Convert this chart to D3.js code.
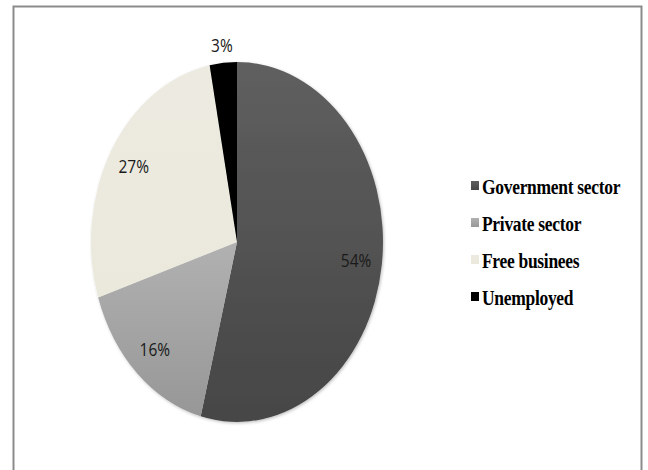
<!DOCTYPE html>
<html>
<head>
<meta charset="utf-8">
<script src="https://cdn.jsdelivr.net/npm/d3@7"></script>
<style>
	body { margin: 0; background: #fff; }
	svg { display: block; }
</style>
</head>
<body>
<div id="chart"></div>
<script>
// chart data
const categories = ['Government sector', 'Private sector', 'Free businees', 'Unemployed'];
const values = [54, 16, 27, 3];
const labels = ['54%', '16%', '27%', '3%'];
// gradient stops per slice (top, bottom)
const fillTops = ['#5f5f5f', '#b1b1b1', '#edebe1', '#000000'];
const fillBottoms = ['#464646', '#979797', '#ebe9dc', '#000000'];

const width = 648,
	height = 470;

const cx = 237,
	cy = 242,
	rx = 146,
	stretch = 180 / 146;

let svg = d3.select('#chart').append('svg')
			.attr('width', width)
			.attr('height', height);

let defs = svg.append('defs');

categories.forEach((c, i) => {
	let grad = defs.append('linearGradient')
				.attr('id', 'grad' + i)
				.attr('x1', '0%').attr('y1', '0%')
				.attr('x2', '0%').attr('y2', '100%');
	grad.append('stop').attr('offset', '0%').attr('stop-color', fillTops[i]);
	grad.append('stop').attr('offset', '100%').attr('stop-color', fillBottoms[i]);
});

let shadow = defs.append('filter')
			.attr('id', 'shadow')
			.attr('x', '-10%').attr('y', '-10%')
			.attr('width', '120%').attr('height', '120%');
shadow.append('feDropShadow')
	.attr('dx', 1).attr('dy', 1)
	.attr('stdDeviation', 1.5)
	.attr('flood-color', '#000')
	.attr('flood-opacity', 0.25);

// chart frame (open at the bottom)
svg.append('path')
	.attr('d', `M13.5,${height + 5} V6.5 H641.5 V${height + 5}`)
	.attr('fill', 'none')
	.attr('stroke', '#8b8b8b')
	.attr('stroke-width', 2);

const pie = d3.pie().sort(null).value((d) => d);
const arcs = pie(values);

const arc = d3.arc().innerRadius(0).outerRadius(rx);
const labelArc = d3.arc().innerRadius(120).outerRadius(120);
const outerLabelArc = d3.arc().innerRadius(160).outerRadius(160);

let pieG = svg.append('g')
			.attr('transform', `translate(${cx},${cy}) scale(1,${stretch})`)
			.attr('filter', 'url(#shadow)');

pieG.selectAll('.slice')
	.data(arcs)
	.enter()
	.append('path')
	.attr('class', 'slice')
	.attr('d', arc)
	.attr('fill', (d, i) => `url(#grad${i})`);

// percentage labels, small slices go outside
svg.append('g')
	.selectAll('text')
	.data(arcs)
	.enter()
	.append('text')
	.attr('transform', (d) => {
		let p = d.value < 5 ? outerLabelArc.centroid(d) : labelArc.centroid(d);
		return `translate(${cx + p[0]},${cy + p[1] * stretch}) scale(1,1.2)`;
	})
	.attr('text-anchor', 'middle')
	.attr('dy', '0.35em')
	.style('font-family', '"Open Sans", sans-serif')
	.style('font-size', '15.5px')
	.style('fill', '#1a1a1a')
	.text((d, i) => labels[i]);

// legend
let legend = svg.append('g')
			.attr('transform', 'translate(471,186)');

let rows = legend.selectAll('.legend-row')
			.data(categories)
			.enter()
			.append('g')
			.attr('class', 'legend-row')
			.attr('transform', (d, i) => `translate(0,${i * 37})`);

rows.append('rect')
	.attr('x', 0)
	.attr('y', -5)
	.attr('width', 8)
	.attr('height', 9)
	.attr('fill', (d, i) => `url(#grad${i})`);

rows.append('text')
	.attr('x', 11)
	.attr('y', 0)
	.attr('dy', '0.36em')
	.attr('transform', 'scale(1,1.2)')
	.style('font-family', '"Liberation Serif", "Times New Roman", serif')
	.style('font-weight', 'bold')
	.style('font-size', '17.5px')
	.style('letter-spacing', '-0.3px')
	.style('fill', '#000')
	.text((d) => d);
</script>
</body>
</html>
